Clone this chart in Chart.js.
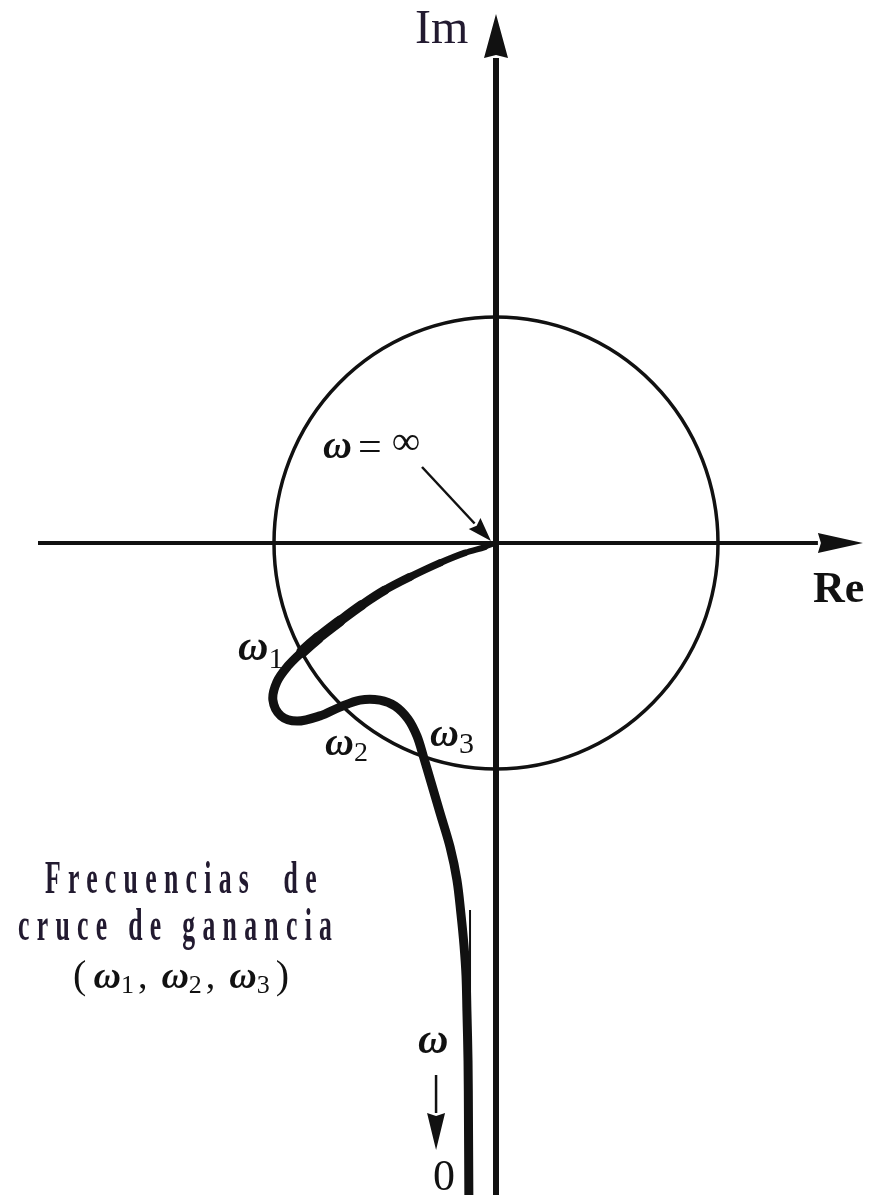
<!DOCTYPE html>
<html>
<head>
<meta charset="utf-8">
<title>Diagrama de Nyquist</title>
<script src="https://cdn.jsdelivr.net/npm/chart.js@4.4.1/dist/chart.umd.min.js"></script>
<style>
  html, body { margin: 0; padding: 0; background: #ffffff; }
  #wrap { width: 881px; height: 1195px; position: relative; }
</style>
</head>
<body>
<div id="wrap"><canvas id="nyquist"></canvas></div>
<script>
// Nyquist locus G(jω), traced from ω = 0 (bottom) to ω = ∞ (origin)
const nyquistRe = [-0.122, -0.124, -0.126, -0.131, -0.135, -0.144, -0.158, -0.176, -0.207, -0.252,
                   -0.293, -0.329, -0.356, -0.396, -0.455, -0.523, -0.613, -0.703, -0.793, -0.896,
                   -0.969, -1.005, -0.987, -0.937, -0.874, -0.802, -0.703, -0.604, -0.500, -0.387,
                   -0.252, -0.140, -0.050, 0];
const nyquistIm = [-2.950, -2.558, -2.292, -2.071, -1.916, -1.783, -1.641, -1.491, -1.345, -1.195,
                   -1.058, -0.938, -0.854, -0.779, -0.721, -0.695, -0.695, -0.726, -0.765, -0.788,
                   -0.765, -0.695, -0.615, -0.544, -0.482, -0.420, -0.345, -0.274, -0.208, -0.150,
                   -0.088, -0.044, -0.018, 0];

// Second trace of the low-frequency branch (ω → 0)
const tailRe = [-0.117, -0.117];
const tailIm = [-1.624, -2.950];

// Plot window in the complex plane
const reRange = [-2.2342, 1.7342];
const imRange = [-2.8850, 2.4027];

// Real and imaginary axes (line ends where the arrowhead starts)
const reAxisRe = [-2.063, 1.450];
const reAxisIm = [0, 0];
const imAxisRe = [0, 0];
const imAxisIm = [-2.950, 2.146];

// Unit circle |G(jω)| = 1
const unitRadius = 1;

// Pointer to the ω = ∞ end of the locus
const infPointerRe = [-0.3333, -0.0964];
const infPointerIm = [0.3363, 0.0863];

// Direction of decreasing ω along the low-frequency branch
const omegaArrowRe = [-0.270, -0.270];
const omegaArrowIm = [-2.354, -2.522];

const FONT = '"Liberation Serif", "DejaVu Serif", serif';
const INK = '#111111';
const TEXT_INK = '#221a30';

// Text placed in (Re, Im) coordinates: [left, baseline]
const labels = [
  { at: [-0.365, 2.212], color: TEXT_INK, runs: [{ t: 'Im', f: '48px' }] },
  { at: [1.428, -0.261], color: INK, runs: [{ t: 'Re', f: 'bold 44px' }] },
  { at: [-0.779, 0.376], color: INK, runs: [
      { t: 'ω', f: 'italic 600 40px' }, { t: '=', f: '42px', dx: 6, dy: 2 }, { t: '∞', f: '40px', dx: 10, dy: -4 }] },
  { at: [-1.162, -0.518], color: INK, runs: [{ t: 'ω', f: 'italic 600 42px' }, { t: '1', f: '30px', dx: 0, dy: 8 }] },
  { at: [-0.770, -0.938], color: INK, runs: [{ t: 'ω', f: 'italic 600 40px' }, { t: '2', f: '28px', dx: 0, dy: 6 }] },
  { at: [-0.297, -0.898], color: INK, runs: [{ t: 'ω', f: 'italic 600 40px' }, { t: '3', f: '30px', dx: 0, dy: 7 }] },
  { at: [-0.351, -2.257], color: INK, runs: [{ t: 'ω', f: 'italic 600 42px' }] },
  { at: [-0.284, -2.863], color: INK, runs: [{ t: '0', f: '44px' }] },
  { at: [-2.032, -1.549], color: TEXT_INK, condense: 0.56, spacing: 13, runs: [{ t: 'Frecuencias  de', f: 'bold 46px' }] },
  { at: [-2.153, -1.757], color: TEXT_INK, condense: 0.56, spacing: 13, runs: [{ t: 'cruce de ganancia', f: 'bold 46px' }] },
  { at: [-1.905, -1.969], color: INK, runs: [
      { t: '(', f: '40px' }, { t: 'ω', f: 'italic 600 38px', dx: 7 }, { t: '1', f: '26px', dy: 5 },
      { t: ',', f: '38px', dx: 4 }, { t: 'ω', f: 'italic 600 38px', dx: 14 }, { t: '2', f: '26px', dy: 5 },
      { t: ',', f: '38px', dx: 4 }, { t: 'ω', f: 'italic 600 38px', dx: 14 }, { t: '3', f: '26px', dy: 5 },
      { t: ')', f: '40px', dx: 6 }] }
];

const toPoints = (xs, ys) => xs.map((x, i) => ({ x, y: ys[i] }));

// Line width of the locus: heavier on the high-frequency branch, tapering into the origin
function locusWidth(i) {
  if (i < 24) return 9;
  return Math.max(4.5, 11.5 - (i - 24) * 0.8);
}

const unitCirclePlugin = {
  id: 'unitCircle',
  beforeDatasetsDraw(chart) {
    const { ctx, scales: { x, y } } = chart;
    const cx = x.getPixelForValue(0), cy = y.getPixelForValue(0);
    const rx = Math.abs(x.getPixelForValue(unitRadius) - cx);
    const ry = Math.abs(y.getPixelForValue(unitRadius) - cy);
    ctx.save();
    ctx.strokeStyle = INK;
    ctx.lineWidth = 3.5;
    ctx.beginPath();
    ctx.ellipse(cx, cy, rx, ry, 0, 0, Math.PI * 2);
    ctx.stroke();
    ctx.restore();
  }
};

const arrowHeadPlugin = {
  id: 'arrowHeads',
  afterDatasetsDraw(chart) {
    const { ctx } = chart;
    chart.data.datasets.forEach((ds, di) => {
      if (!ds.arrowHead) return;
      const pts = chart.getDatasetMeta(di).data;
      const a = pts[pts.length - 2], b = pts[pts.length - 1];
      const dx = b.x - a.x, dy = b.y - a.y;
      const L = Math.hypot(dx, dy);
      const ux = dx / L, uy = dy / L;
      const { length, halfWidth } = ds.arrowHead;
      const tipX = b.x + ux * length, tipY = b.y + uy * length;
      ctx.save();
      ctx.fillStyle = INK;
      ctx.beginPath();
      ctx.moveTo(tipX, tipY);
      ctx.lineTo(b.x - uy * halfWidth, b.y + ux * halfWidth);
      ctx.lineTo(b.x + ux * 3, b.y + uy * 3);
      ctx.lineTo(b.x + uy * halfWidth, b.y - ux * halfWidth);
      ctx.closePath();
      ctx.fill();
      ctx.restore();
    });
  }
};

const labelPlugin = {
  id: 'labels',
  afterDraw(chart) {
    const { ctx, scales: { x, y } } = chart;
    ctx.save();
    ctx.textBaseline = 'alphabetic';
    ctx.textAlign = 'left';
    labels.forEach(lb => {
      const px = x.getPixelForValue(lb.at[0]);
      const py = y.getPixelForValue(lb.at[1]);
      ctx.fillStyle = lb.color;
      if (lb.condense) {
        ctx.save();
        ctx.translate(px, py);
        ctx.scale(lb.condense, 1);
        if ('letterSpacing' in ctx) ctx.letterSpacing = lb.spacing + 'px';
        ctx.font = lb.runs[0].f + ' ' + FONT;
        ctx.fillText(lb.runs[0].t, 0, 0);
        ctx.restore();
        return;
      }
      let cx = px;
      lb.runs.forEach(r => {
        ctx.font = r.f + ' ' + FONT;
        cx += (r.dx || 0);
        ctx.fillText(r.t, cx, py + (r.dy || 0));
        cx += ctx.measureText(r.t).width;
      });
    });
    ctx.restore();
  }
};

new Chart(document.getElementById('nyquist'), {
  type: 'scatter',
  data: {
    datasets: [
      {
        label: 'Re',
        data: toPoints(reAxisRe, reAxisIm),
        showLine: true, borderColor: INK, borderWidth: 4, borderCapStyle: 'butt',
        pointRadius: 0, arrowHead: { length: 45, halfWidth: 10 }
      },
      {
        label: 'Im',
        data: toPoints(imAxisRe, imAxisIm),
        showLine: true, borderColor: INK, borderWidth: 6, borderCapStyle: 'butt',
        pointRadius: 0, arrowHead: { length: 44, halfWidth: 12 }
      },
      {
        label: 'G(jω)',
        data: toPoints(nyquistRe, nyquistIm),
        showLine: true, borderColor: INK, borderWidth: 9, tension: 0.35,
        borderCapStyle: 'round', borderJoinStyle: 'round', pointRadius: 0,
        segment: { borderWidth: c => locusWidth(c.p0DataIndex) }
      },
      {
        label: 'G(jω), ω → 0',
        data: toPoints(tailRe, tailIm),
        showLine: true, borderColor: INK, borderWidth: 2, pointRadius: 0
      },
      {
        label: 'ω = ∞',
        data: toPoints(infPointerRe, infPointerIm),
        showLine: true, borderColor: INK, borderWidth: 2.5, borderCapStyle: 'butt',
        pointRadius: 0, arrowHead: { length: 24, halfWidth: 8 }
      },
      {
        label: 'ω',
        data: toPoints(omegaArrowRe, omegaArrowIm),
        showLine: true, borderColor: INK, borderWidth: 2.5, borderCapStyle: 'butt',
        pointRadius: 0, arrowHead: { length: 37, halfWidth: 9 }
      }
    ]
  },
  options: {
    responsive: true,
    maintainAspectRatio: false,
    animation: false,
    devicePixelRatio: 1,
    layout: { padding: 0 },
    plugins: { legend: { display: false }, tooltip: { enabled: false }, title: { display: false } },
    scales: {
      x: { type: 'linear', min: reRange[0], max: reRange[1], display: false },
      y: { type: 'linear', min: imRange[0], max: imRange[1], display: false }
    }
  },
  plugins: [unitCirclePlugin, arrowHeadPlugin, labelPlugin]
});
</script>
</body>
</html>
